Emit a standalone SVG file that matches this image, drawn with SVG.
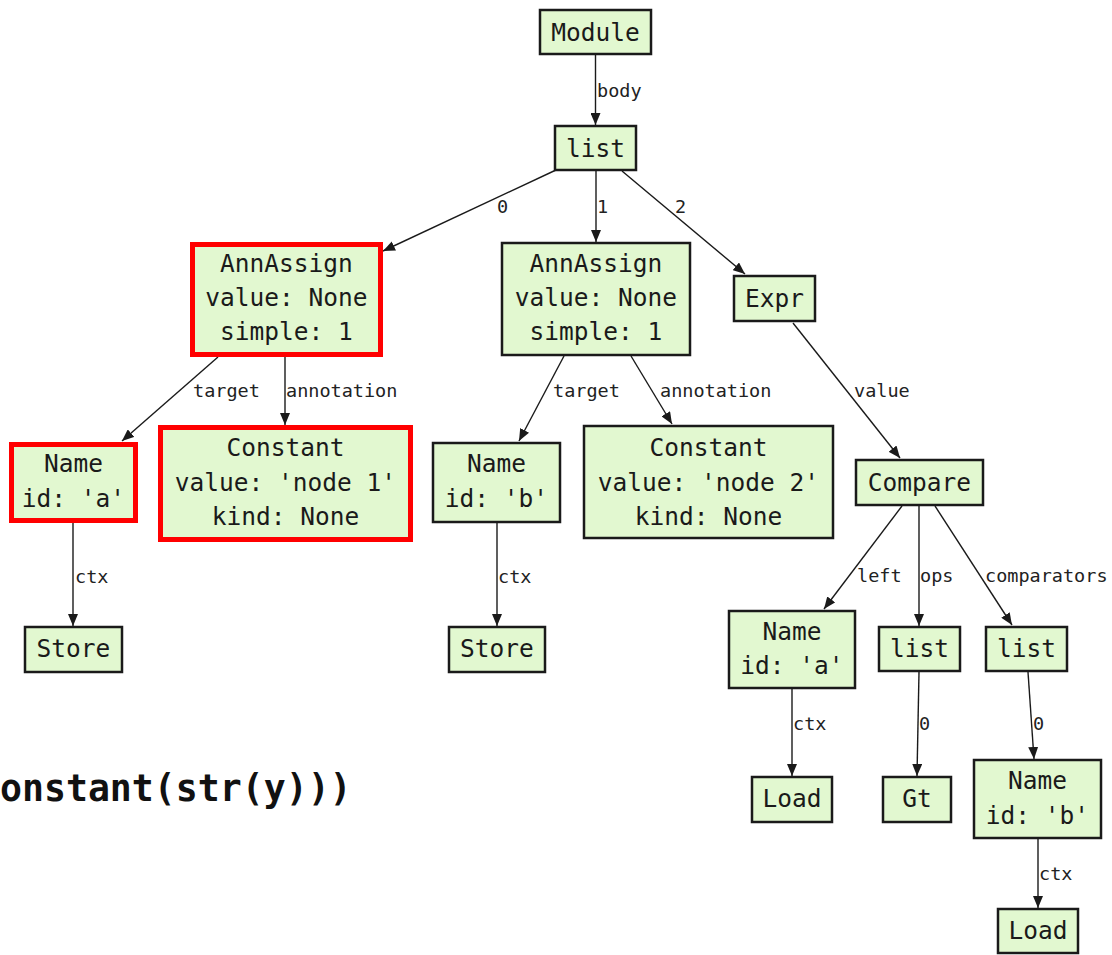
<svg xmlns="http://www.w3.org/2000/svg" width="1112" height="955" viewBox="0 0 1112 955">
<style>
.n rect{fill:#e2f8d0;stroke:#1a1a1a;stroke-width:2.5}
.n.hl rect{stroke:#ff0000;stroke-width:5}
.n text{font-family:"DejaVu Sans Mono","Liberation Mono",monospace;font-size:24.5px;fill:#1a1a1a;text-anchor:middle;dominant-baseline:central}
#edges line{stroke:#1a1a1a;stroke-width:1.4;marker-end:url(#ah)}
#edges text{font-family:"DejaVu Sans Mono","Liberation Mono",monospace;font-size:18.5px;fill:#222;dominant-baseline:central}
.code{font-family:"DejaVu Sans Mono","Liberation Mono",monospace;font-weight:bold;font-size:36.5px;fill:#111}
</style>
<defs>
<marker id="ah" markerUnits="userSpaceOnUse" markerWidth="12" markerHeight="10" refX="12" refY="5" orient="auto">
<path d="M0,0 L12,5 L0,10 z" fill="#1a1a1a"/>
</marker>
</defs>
<rect width="1112" height="955" fill="#ffffff"/>
<g id="edges">
<line x1="595.5" y1="55" x2="595.5" y2="125"/><text x="597" y="90">body</text>
<line x1="556" y1="170" x2="383" y2="251"/><text x="497" y="206">0</text>
<line x1="596" y1="171" x2="596" y2="242"/><text x="597" y="206">1</text>
<line x1="622" y1="171" x2="745" y2="274"/><text x="675" y="206">2</text>
<line x1="218" y1="357" x2="122" y2="441"/><text x="193" y="390">target</text>
<line x1="285" y1="357" x2="285" y2="425"/><text x="286" y="390">annotation</text>
<line x1="73" y1="523" x2="73" y2="626"/><text x="75" y="576">ctx</text>
<line x1="564" y1="356" x2="519" y2="441"/><text x="553" y="390">target</text>
<line x1="631" y1="356" x2="672" y2="424"/><text x="660" y="390">annotation</text>
<line x1="497" y1="523" x2="497" y2="626"/><text x="498" y="576">ctx</text>
<line x1="793" y1="323" x2="900" y2="458"/><text x="854" y="390">value</text>
<line x1="902" y1="506" x2="824" y2="609"/><text x="857" y="575">left</text>
<line x1="919" y1="506" x2="919" y2="626"/><text x="920" y="575">ops</text>
<line x1="935" y1="506" x2="1012" y2="625"/><text x="985" y="575">comparators</text>
<line x1="792" y1="689" x2="792" y2="776"/><text x="793" y="723">ctx</text>
<line x1="919" y1="672" x2="917" y2="776"/><text x="919" y="723">0</text>
<line x1="1028" y1="672" x2="1034" y2="759"/><text x="1033" y="723">0</text>
<line x1="1038" y1="839" x2="1038" y2="908"/><text x="1039" y="873">ctx</text>
</g>
<g id="module" class="n"><rect x="540" y="10" width="111" height="44"/><text x="595.5" y="32">Module</text></g>
<g id="list0" class="n"><rect x="555" y="126" width="81" height="44"/><text x="595.5" y="148">list</text></g>
<g id="annassign1" class="n hl"><rect x="192.5" y="244.5" width="188" height="110"/><text x="286.5" y="263">AnnAssign</text><text x="286.5" y="297">value: None</text><text x="286.5" y="331">simple: 1</text></g>
<g id="name_a1" class="n hl"><rect x="11.5" y="444.5" width="124" height="76"/><text x="73.5" y="463">Name</text><text x="73.5" y="498">id: 'a'</text></g>
<g id="constant1" class="n hl"><rect x="160.5" y="427.5" width="250" height="112"/><text x="285.5" y="447">Constant</text><text x="285.5" y="482">value: 'node 1'</text><text x="285.5" y="516">kind: None</text></g>
<g id="store1" class="n"><rect x="25" y="627" width="97" height="45"/><text x="73.5" y="648">Store</text></g>
<g id="annassign2" class="n"><rect x="502" y="243" width="188" height="112"/><text x="596" y="263">AnnAssign</text><text x="596" y="297">value: None</text><text x="596" y="331">simple: 1</text></g>
<g id="name_b1" class="n"><rect x="433" y="443" width="127" height="79"/><text x="496.5" y="463">Name</text><text x="496.5" y="498">id: 'b'</text></g>
<g id="constant2" class="n"><rect x="584" y="426" width="249" height="112"/><text x="708.5" y="447">Constant</text><text x="708.5" y="482">value: 'node 2'</text><text x="708.5" y="516">kind: None</text></g>
<g id="store2" class="n"><rect x="449" y="627" width="96" height="45"/><text x="497" y="648">Store</text></g>
<g id="expr" class="n"><rect x="734" y="276" width="81" height="45"/><text x="774.5" y="298">Expr</text></g>
<g id="compare" class="n"><rect x="856" y="460" width="127" height="45"/><text x="919.5" y="482">Compare</text></g>
<g id="name_a2" class="n"><rect x="729" y="611" width="126" height="77"/><text x="792" y="631">Name</text><text x="792" y="665">id: 'a'</text></g>
<g id="list_ops" class="n"><rect x="879" y="627" width="81" height="44"/><text x="919.5" y="648">list</text></g>
<g id="list_comp" class="n"><rect x="986" y="627" width="81" height="44"/><text x="1026.5" y="648">list</text></g>
<g id="load1" class="n"><rect x="752" y="777" width="80" height="45"/><text x="792" y="798">Load</text></g>
<g id="gt" class="n"><rect x="883" y="777" width="68" height="45"/><text x="917" y="798">Gt</text></g>
<g id="name_b2" class="n"><rect x="974" y="760" width="127" height="78"/><text x="1037.5" y="780">Name</text><text x="1037.5" y="815">id: 'b'</text></g>
<g id="load2" class="n"><rect x="998" y="909" width="80" height="44"/><text x="1038" y="930">Load</text></g>
<text class="code" x="0" y="801">onstant(str(y)))</text>
</svg>
